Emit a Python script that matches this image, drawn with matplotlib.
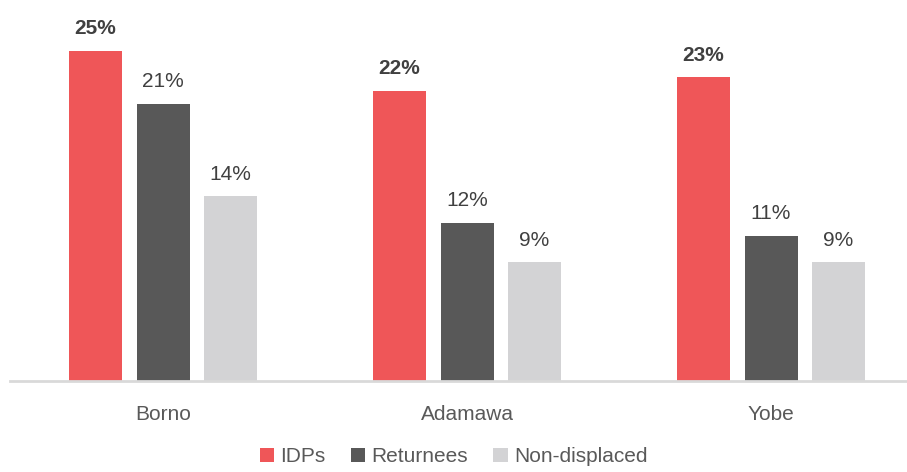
import numpy as np
import matplotlib.pyplot as plt
from matplotlib import font_manager

# Data
states = ["Borno", "Adamawa", "Yobe"]
groups = ["IDPs", "Returnees", "Non-displaced"]
idps = [25, 22, 23]
returnees = [21, 12, 11]
non_displaced = [14, 9, 9]

colors = ["#EF5658", "#585858", "#D3D3D5"]

names = [f.name for f in font_manager.fontManager.ttflist]
font = "Liberation Sans Narrow" if "Liberation Sans Narrow" in names else "Liberation Sans"
plt.rcParams["font.family"] = [font, "DejaVu Sans"]

fig = plt.figure(figsize=(9.07, 4.72), dpi=100)
ax = fig.add_axes([10 / 907, (472 - 381) / 472, 897 / 907, 370 / 472])

x = np.arange(len(states))
width = 53 / 304
step = 67.5 / 304

series = [idps, returnees, non_displaced]
for i, (vals, name, c) in enumerate(zip(series, groups, colors)):
    pos = x + (i - 1) * step
    ax.bar(pos, vals, width, color=c, label=name, zorder=2)
    for px, v in zip(pos, vals):
        ax.annotate(f"{v}%", (px, v), xytext=(0, 9), textcoords="offset points",
                    ha="center", va="bottom", fontsize=15, color="#404040",
                    fontweight="bold" if i == 0 else "normal")

ax.set_xlim(-153 / 304, 2 + 136 / 304)
ax.set_ylim(0, 370 / 13.2)
ax.set_xticks(x)
ax.set_xticklabels(states, fontsize=15, color="#595959")
ax.tick_params(axis="x", length=0, pad=17)
ax.set_yticks([])
for s in ["top", "right", "left"]:
    ax.spines[s].set_visible(False)
ax.spines["bottom"].set_color("#D9D9D9")
ax.spines["bottom"].set_linewidth(2)

leg = fig.legend(loc="lower center", bbox_to_anchor=(0.5, -0.028), ncol=3, frameon=False,
                 fontsize=15, handlelength=0.7, handleheight=0.7, handletextpad=0.3,
                 columnspacing=1.2)
for t in leg.get_texts():
    t.set_color("#595959")

fig.savefig("out.png", dpi=100)
